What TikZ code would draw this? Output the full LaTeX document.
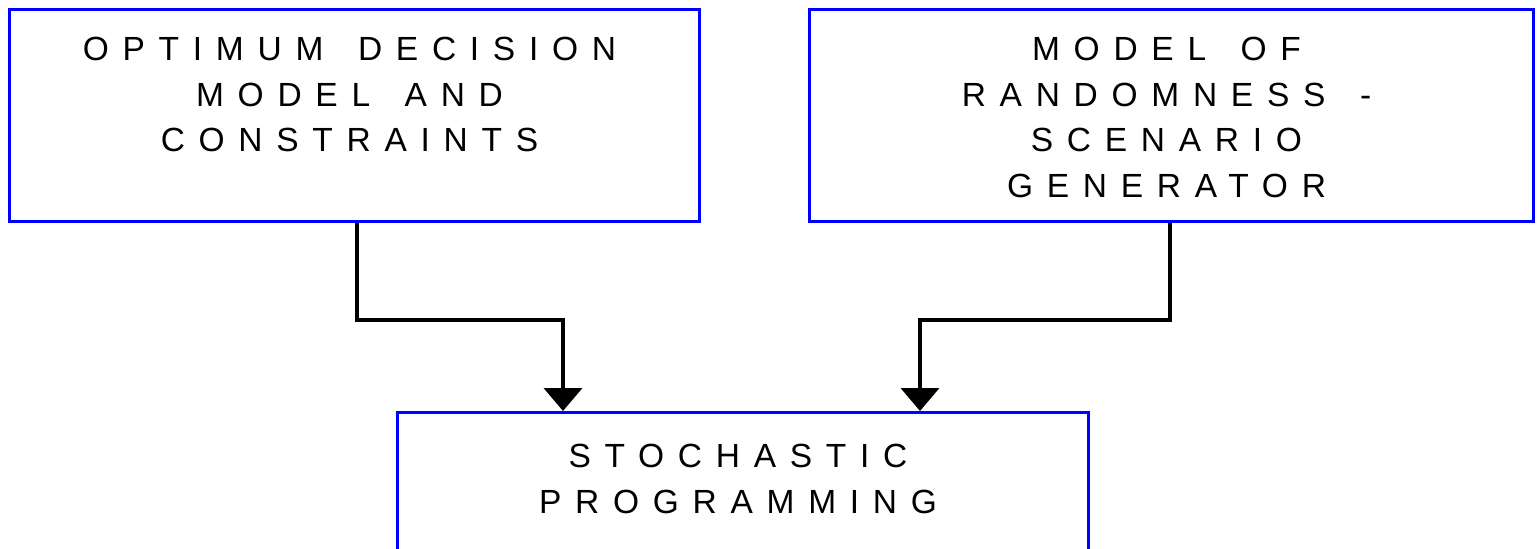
\documentclass[tikz,border=0pt]{standalone}
\usepackage{fontspec}
\usetikzlibrary{arrows.meta,positioning}
\newfontfamily\boxfont[LetterSpace=41,WordSpace=1.5]{Liberation Sans}

\begin{document}
\begin{tikzpicture}[x=0.5pt,y=-0.5pt]
        \tikzset{block/.style={draw=blue, line width=1.5pt, inner sep=0pt},
                 blocktext/.style={inner sep=0pt, align=center, xshift=-2.5pt, font=\fontsize{16.75}{22.7}\selectfont\boxfont},
                 flow/.style={draw, line width=2pt, -{Triangle[width=19pt,length=11.5pt]}}}
        \useasboundingbox (0,0) rectangle (1537,548);
        %
        \node[block, minimum width=345pt, minimum height=106pt] (optbox) at (354.5,115.5) {};
        \node[block, minimum width=362pt, minimum height=106pt] (randbox) at (1171.5,115.5) {};
        \node[block, minimum width=345.5pt, minimum height=69.75pt] (stochbox) at (743,482.25) {};
        %
        \node[blocktext, below=14.5pt of optbox.north] (opttext) {OPTIMUM DECISION\\MODEL AND\\CONSTRAINTS};
        \node[blocktext, below=14.5pt of randbox.north] (randtext) {MODEL OF\\RANDOMNESS -\\SCENARIO\\GENERATOR};
        \node[blocktext, below=16.5pt of stochbox.north] (stochtext) {STOCHASTIC\\PROGRAMMING};
        %
        \draw[flow] ([xshift=1pt]optbox.south) -- ++(0,97) -| ([xshift=-90pt]stochbox.north);
        \draw[flow] ([xshift=-0.75pt]randbox.south) -- ++(0,97) -| ([xshift=88.5pt]stochbox.north);
\end{tikzpicture}
\end{document}
